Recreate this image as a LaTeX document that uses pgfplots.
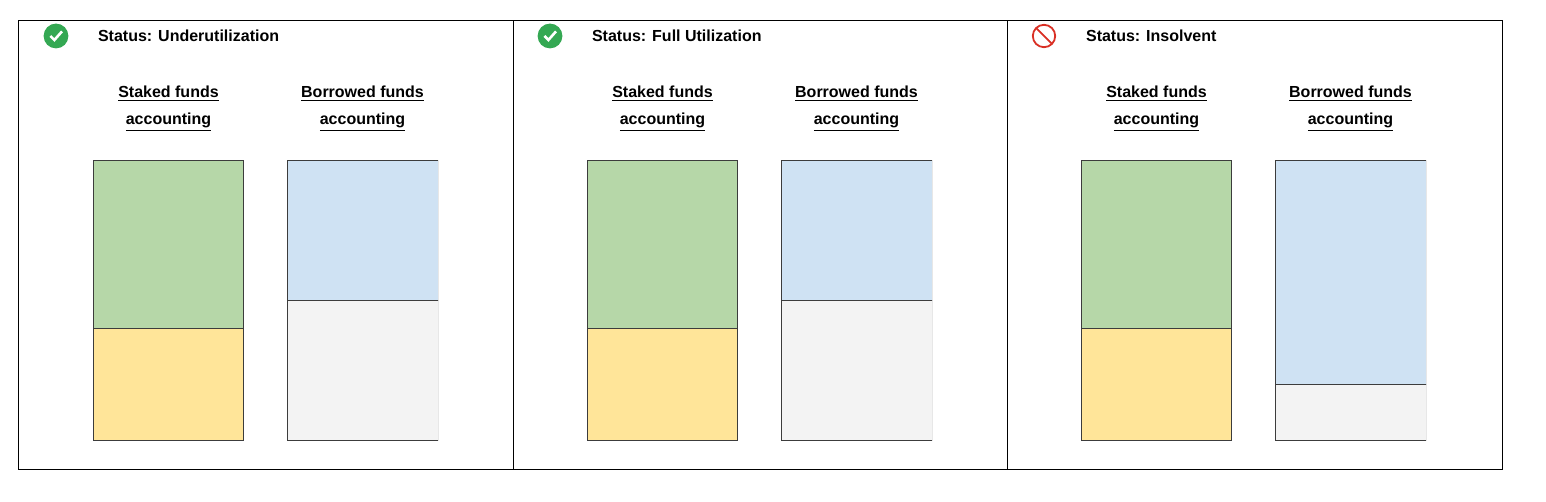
\documentclass[border=0pt]{standalone}
\usepackage{pgfplots}
\pgfplotsset{compat=1.18}
\usepackage{fontspec}
\setmainfont{Liberation Sans}
\definecolor{cgreen}{HTML}{B6D7A8}
\definecolor{cyellow}{HTML}{FFE599}
\definecolor{cblue}{HTML}{CFE2F3}
\definecolor{cgray}{HTML}{F3F3F3}
\definecolor{cedge}{HTML}{3C3C3C}
\definecolor{okgreen}{HTML}{34A853}
\definecolor{nored}{HTML}{D93025}
\newcommand\fnt{\fontsize{8}{10}\selectfont}
\newcommand\panel[5]{%
 \begin{scope}[xshift=#1pt]
 \begin{axis}[scale only axis, width=172.5pt, height=140pt, hide axis,
   at={(46.5pt,30.5pt)}, anchor=south west,
   xmin=-0.389, xmax=1.389, ymin=0, ymax=100,
   ybar stacked, bar width=0.778]
   \addplot[fill=cyellow, draw=cedge, line width=0.5pt] coordinates {(0,40) (1,0)};
   \addplot[fill=cgreen, draw=cedge, line width=0.5pt] coordinates {(0,60) (1,0)};
   \addplot[fill=cgray, draw=cedge, line width=0.5pt] coordinates {(0,0) (1,#3)};
   \addplot[fill=cblue, draw=cedge, line width=0.5pt] coordinates {(0,0) (1,#2)};
   \node[font=\fnt] at (axis cs:0,70) {Active};
   \node[font=\fnt] at (axis cs:0,20) {Inactive};
   \node[font=\fnt] at (axis cs:1,{#3+#2/2}) {Borrowed};
   \node[font=\fnt] at (axis cs:1,{#3/2}) {Unborrowed};
 \end{axis}
 \node[anchor=west, font=\bfseries\fnt] at (45.5pt,233pt) {#4};
 \node[font=\bfseries\fnt] at (84.25pt,204pt) {\underline{Staked funds}};
 \node[font=\bfseries\fnt] at (84.25pt,190pt) {\underline{accounting}};
 \node[font=\bfseries\fnt] at (181.25pt,204pt) {\underline{Borrowed funds}};
 \node[font=\bfseries\fnt] at (181.25pt,190pt) {\underline{accounting}};
 \ifnum#5=1
  \fill[okgreen] (28pt,233pt) circle (6.2pt);
  \draw[white, line width=1.3pt] (25.2pt,233pt) -- (27.2pt,231pt) -- (31pt,235.3pt);
 \else
  \draw[nored, line width=0.9pt] (28pt,233pt) circle (5.6pt);
  \draw[nored, line width=0.9pt] (24.1pt,236.9pt) -- (31.9pt,229.1pt);
 \fi
 \end{scope}}
\begin{document}
\begin{tikzpicture}
\path (0,0) rectangle (773pt,251pt);
\draw[black, line width=0.5pt] (9pt,16pt) rectangle (751pt,240.5pt);
\draw[black, line width=0.5pt] (256.5pt,16pt) -- (256.5pt,240.5pt);
\draw[black, line width=0.5pt] (503.5pt,16pt) -- (503.5pt,240.5pt);
\panel{0}{50}{50}{Status: Underutilization}{1}
\panel{247}{50}{50}{Status: Full Utilization}{1}
\panel{494}{80}{20}{Status: Insolvent}{0}
\end{tikzpicture}
\end{document}
